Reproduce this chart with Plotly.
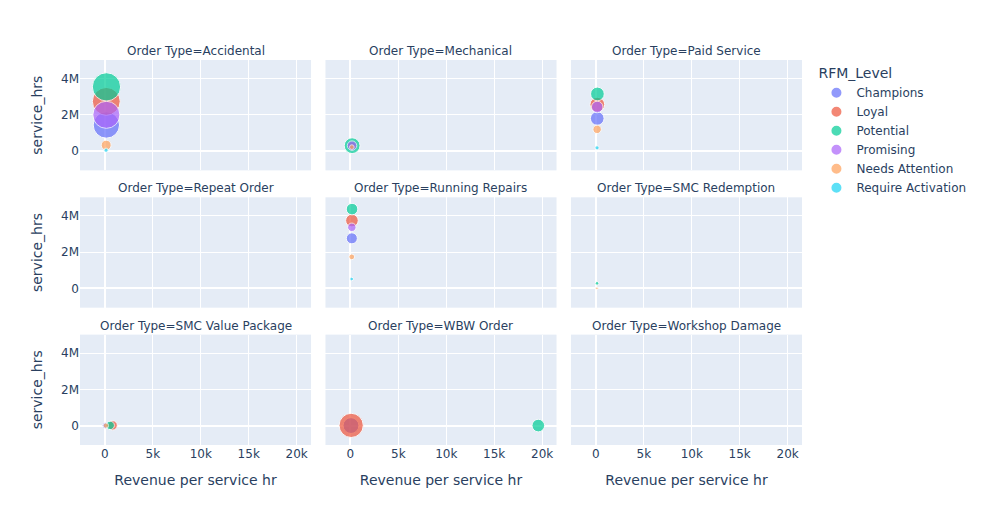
import numpy as np
import pandas as pd
import plotly.express as px

order_types = ["Accidental", "Mechanical", "Paid Service", "Repeat Order", "Running Repairs",
               "SMC Redemption", "SMC Value Package", "WBW Order", "Workshop Damage"]
rfm_levels = ["Champions", "Loyal", "Potential", "Promising", "Needs Attention", "Require Activation"]

# rows: order type, RFM level, revenue per service hr, service hrs, bubble size value
order_type_col = [
    "Accidental", "Accidental", "Accidental", "Accidental", "Accidental", "Accidental",
    "Mechanical", "Mechanical", "Mechanical", "Mechanical", "Mechanical",
    "Paid Service", "Paid Service", "Paid Service", "Paid Service", "Paid Service", "Paid Service",
    "Repeat Order",
    "Running Repairs", "Running Repairs", "Running Repairs", "Running Repairs", "Running Repairs", "Running Repairs",
    "SMC Redemption", "SMC Redemption",
    "SMC Value Package", "SMC Value Package", "SMC Value Package", "SMC Value Package",
    "WBW Order", "WBW Order", "WBW Order",
    "Workshop Damage",
]
rfm_col = [
    "Champions", "Loyal", "Potential", "Promising", "Needs Attention", "Require Activation",
    "Champions", "Loyal", "Potential", "Promising", "Needs Attention",
    "Champions", "Loyal", "Potential", "Promising", "Needs Attention", "Require Activation",
    "Champions",
    "Champions", "Loyal", "Potential", "Promising", "Needs Attention", "Require Activation",
    "Potential", "Needs Attention",
    "Champions", "Loyal", "Potential", "Needs Attention",
    "Champions", "Loyal", "Potential",
    "Champions",
]
revenue_per_hr = [
    150, 140, 160, 150, 130, 120,
    170, 160, 180, 170, 150,
    140, 150, 160, 140, 130, 120,
    np.nan,
    150, 160, 170, 150, 140, 130,
    120, 110,
    50, 800, 550, 100,
    60, 80, 19600,
    np.nan,
]
service_hrs = [
    1.44e6, 2.74e6, 3.54e6, 2.00e6, 0.33e6, 0.05e6,
    0.28e6, 0.27e6, 0.30e6, 0.30e6, 0.22e6,
    1.80e6, 2.56e6, 3.15e6, 2.43e6, 1.20e6, 0.18e6,
    np.nan,
    2.76e6, 3.74e6, 4.37e6, 3.37e6, 1.74e6, 0.52e6,
    0.28e6, 0.01e6,
    0.01e6, 0.02e6, 0.02e6, 0.01e6,
    0.01e6, 0.02e6, 0.01e6,
    np.nan,
]
job_count = [
    625, 700, 720, 660, 90, 16,
    110, 60, 225, 81, 20,
    169, 196, 169, 121, 64, 16,
    1,
    110, 144, 121, 64, 30, 12,
    12, 6,
    36, 81, 64, 25,
    225, 529, 144,
    1,
]

df = pd.DataFrame({
    "Order Type": order_type_col,
    "RFM_Level": rfm_col,
    "Revenue per service hr": revenue_per_hr,
    "service_hrs": service_hrs,
    "job_count": job_count,
})

fig = px.scatter(
    df, x="Revenue per service hr", y="service_hrs", size="job_count",
    color="RFM_Level", facet_col="Order Type", facet_col_wrap=3, size_max=20,
    category_orders={"Order Type": order_types, "RFM_Level": rfm_levels},
)
fig.update_xaxes(range=[-2600, 21500])
fig.update_yaxes(range=[-1.06e6, 5.02e6])
fig.update_layout(width=983, height=525, font_family="DejaVu Sans")
fig.write_html("out.html")
